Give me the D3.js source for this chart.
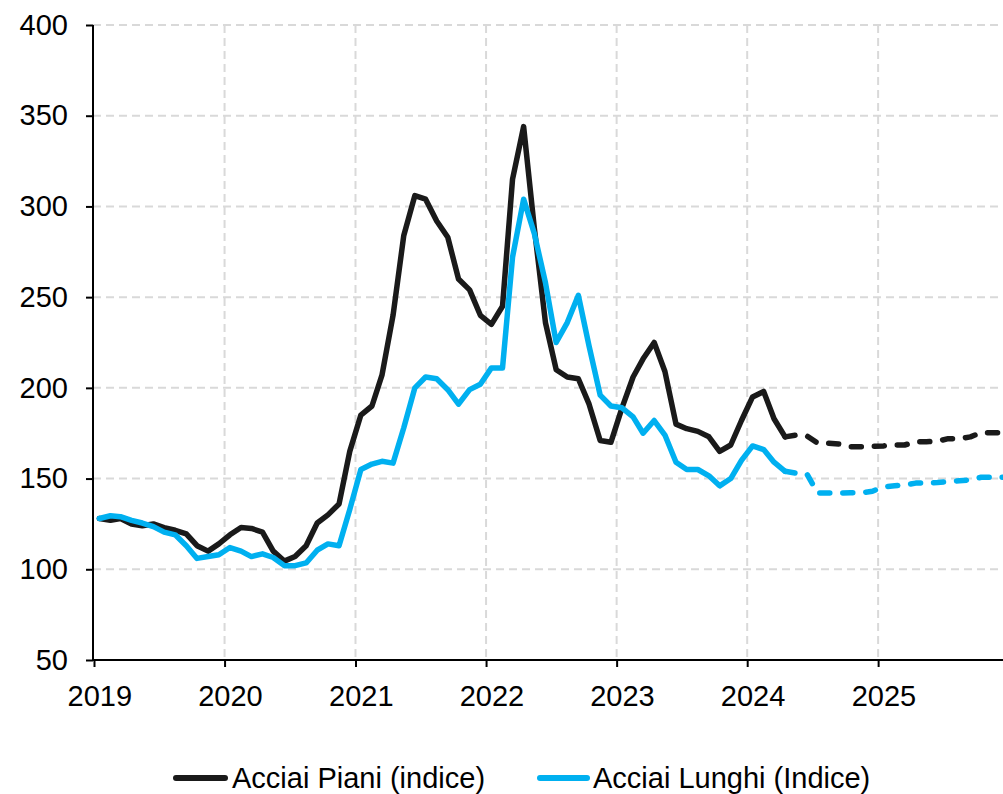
<!DOCTYPE html>
<html>
<head>
<meta charset="utf-8">
<script src="https://cdn.jsdelivr.net/npm/d3@7"></script>
<style>
  html, body { margin: 0; padding: 0; background: #ffffff; }
  svg { display: block; }
  text { font-family: "Liberation Sans", Arial, sans-serif; fill: #000; }
</style>
</head>
<body>
<svg id="chart" width="1003" height="794"></svg>
<script>
// ---- Data (monthly, Jan 2019 onward) ----
const startYear = 2019;
const yearTicks = [2019, 2020, 2021, 2022, 2023, 2024, 2025];
const yTicks = [50, 100, 150, 200, 250, 300, 350, 400];
const seriesNames = ["Acciai Piani (indice)", "Acciai Lunghi (Indice)"];

// Actual values Jan 2019 .. Apr 2024
const piani = [128,127,128,125,124,125,123,121.5,119.5,113,110,114,
               119,123,122.5,120.5,110,104.5,107,113,125.5,130,136,165,
               185,190,207,240,284,306,304,292,283,260,254,240,
               235,245,315,344,288,236,210,206,205,191,171,170,
               189,206,216,225,209,180,177.5,176,173,165,168.5,182,
               195,198,183,173];
const lunghi = [128,129.5,129,127,125.5,123.5,120.5,119,113,106,107,108,
                112,110,107,108.5,106.5,102,102,103.5,110.5,114,113,133,
                155,158,159.5,158.5,178,200,206,205,199,191,199,202,
                211,211,272,304,285,258,225,236,251,223,196,190,
                189,184,175,182,174,159,155,155,151.5,146,150,160,
                168,166,159,154];
// Forecast values Apr 2024 .. Dec 2025
const pianiForecast = [173,174,173.5,169.5,169.5,169,167.5,167.5,167.8,168,168.5,168.5,
                       170.3,170.3,170.6,172,172,173,175.3,175.3,175.3];
const lunghiForecast = [154,153,152.5,142,142,142,142.2,142.2,143,145.5,146,146.5,
                        147.5,147.7,147.8,148.4,148.8,149.3,150.7,150.7,150.7];

// ---- Layout ----
const svg = d3.select("#chart");
const plotLeft = 93, plotTop = 25, plotBottom = 660;
const fontSize = "29px";

const x = d3.scaleTime()
  .domain([new Date(startYear, 0, 1), new Date(2026, 0, 1)])
  .range([94, 94 + 7 * 130.67]);
const y = d3.scaleLinear().domain([50, 400]).range([plotBottom, plotTop]);

// month index -> mid-month date
const monthDate = i => new Date(startYear, i, 16);
const forecastStart = piani.length - 1;

svg.append("rect").attr("width", 1003).attr("height", 794).attr("fill", "#fff");

// ---- Gridlines ----
const grid = svg.append("g");
grid.selectAll("line.h").data(yTicks.filter(v => v > 50)).enter().append("line")
  .attr("x1", plotLeft).attr("x2", 1003)
  .attr("y1", d => y(d)).attr("y2", d => y(d))
  .attr("stroke", "#d9d9d9").attr("stroke-width", 2).attr("stroke-dasharray", "8,5");
grid.selectAll("line.v").data(yearTicks.filter(v => v > startYear)).enter().append("line")
  .attr("x1", d => x(new Date(d, 0, 1))).attr("x2", d => x(new Date(d, 0, 1)))
  .attr("y1", plotTop).attr("y2", plotBottom)
  .attr("stroke", "#d9d9d9").attr("stroke-width", 2).attr("stroke-dasharray", "8,5");

// ---- Axes ----
const yAxis = svg.append("g").attr("transform", `translate(${plotLeft},0)`)
  .call(d3.axisLeft(y).tickValues(yTicks).tickSize(7).tickPadding(18).tickFormat(d3.format("d")));
yAxis.select(".domain").attr("stroke", "#000").attr("stroke-width", 2).attr("d", `M0,${plotTop}V${plotBottom}`);
yAxis.selectAll(".tick line").attr("stroke", "#000").attr("stroke-width", 2);
yAxis.selectAll(".tick text").style("font-size", fontSize).style("font-family", "'Liberation Sans', Arial, sans-serif");

const labelOffset = x(new Date(2020, 0, 16)) - x(new Date(2020, 0, 1));
const xAxis = svg.append("g").attr("transform", `translate(0,${plotBottom})`)
  .call(d3.axisBottom(x).tickValues(yearTicks.map(yy => new Date(yy, 0, 1)))
    .tickSize(7).tickPadding(18).tickFormat(d3.timeFormat("%Y")));
xAxis.select(".domain").attr("stroke", "#000").attr("stroke-width", 2).attr("d", `M${plotLeft},0H1003`);
xAxis.selectAll(".tick line").attr("stroke", "#000").attr("stroke-width", 2);
xAxis.selectAll(".tick text").attr("x", labelOffset)
  .style("font-size", fontSize).style("font-family", "'Liberation Sans', Arial, sans-serif");

// ---- Lines ----
const line = d3.line().x(d => x(d.date)).y(d => y(d.v));
const toPts = (arr, off) => arr.map((v, i) => ({date: monthDate(i + off), v}));

const series = [
  {actual: piani, forecast: pianiForecast, color: "#1a1a1a"},
  {actual: lunghi, forecast: lunghiForecast, color: "#00b0f0"}
];
const lines = svg.append("g");
series.forEach(s => {
  lines.append("path").datum(toPts(s.actual, 0))
    .attr("d", line).attr("fill", "none").attr("stroke", s.color)
    .attr("stroke-width", 5.5).attr("stroke-linejoin", "round").attr("stroke-linecap", "round");
  lines.append("path").datum(toPts(s.forecast, forecastStart))
    .attr("d", line).attr("fill", "none").attr("stroke", s.color)
    .attr("stroke-width", 5.5).attr("stroke-linejoin", "round").attr("stroke-linecap", "round")
    .attr("stroke-dasharray", "10,13");
});

// ---- Legend ----
const legend = svg.append("g");
const legendItems = [
  {name: seriesNames[0], color: "#1a1a1a", x1: 176, x2: 225, tx: 232},
  {name: seriesNames[1], color: "#00b0f0", x1: 540, x2: 587, tx: 593}
];
legendItems.forEach(it => {
  legend.append("line").attr("x1", it.x1).attr("x2", it.x2).attr("y1", 778).attr("y2", 778)
    .attr("stroke", it.color).attr("stroke-width", 6).attr("stroke-linecap", "round");
  legend.append("text").attr("x", it.tx).attr("y", 788).style("font-size", fontSize).text(it.name);
});
</script>
</body>
</html>
